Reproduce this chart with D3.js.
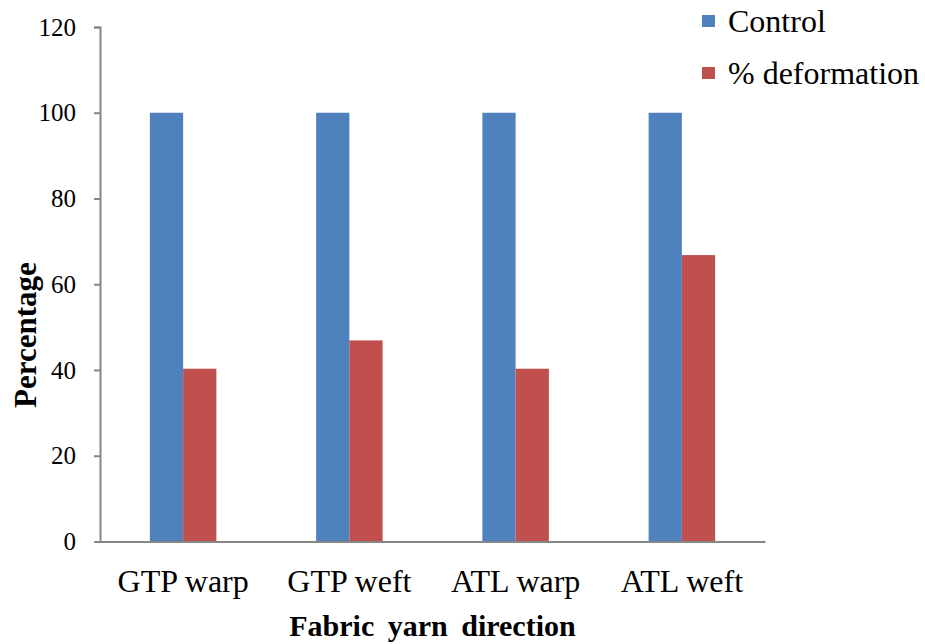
<!DOCTYPE html>
<html>
<head>
<meta charset="utf-8">
<script src="https://cdn.jsdelivr.net/npm/d3@7"></script>
<style>
  body { margin: 0; background: #fff; }
</style>
</head>
<body>
<svg id="chart"></svg>
<script>
const categories = ["GTP warp", "GTP weft", "ATL warp", "ATL weft"];
const seriesNames = ["Control", "% deformation"];
const controlValues = [100, 100, 100, 100];
const deformationValues = [40.3, 46.9, 40.3, 66.8];
const yTicks = [0, 20, 40, 60, 80, 100, 120];
const colors = ["#4F81BD", "#C0504D"];

const width = 925, height = 644;
const margin = { top: 27, right: 160, bottom: 103, left: 100 };
const serif = '"Liberation Serif"';

const svg = d3.select("#chart")
    .attr("width", width)
    .attr("height", height);

const x0 = d3.scaleBand()
    .domain(categories)
    .range([margin.left, 765])
    .padding(0);

const x1 = d3.scaleBand()
    .domain(seriesNames)
    .range([0, x0.bandwidth()])
    .paddingOuter(1.5)
    .paddingInner(0);

const y = d3.scaleLinear()
    .domain([0, 120])
    .range([height - margin.bottom + 0.5, margin.top]);

const rows = categories.map((c, i) => ({
    cat: c,
    values: [controlValues[i], deformationValues[i]]
}));

// bars
const groups = svg.append("g")
    .selectAll("g")
    .data(rows)
    .join("g")
    .attr("transform", d => `translate(${x0(d.cat)},0)`);

groups.selectAll("rect")
    .data(d => d.values.map((v, i) => ({ key: seriesNames[i], value: v, i: i })))
    .join("rect")
    .attr("x", d => x1(d.key))
    .attr("width", x1.bandwidth())
    .attr("y", d => y(d.value))
    .attr("height", d => y(0) - y(d.value))
    .attr("fill", d => colors[d.i]);

// y axis
const yAxis = svg.append("g")
    .attr("transform", `translate(${margin.left},0)`)
    .call(d3.axisLeft(y).tickValues(yTicks).tickSize(6).tickPadding(18));

yAxis.select(".domain").attr("stroke", "#868686").attr("stroke-width", 2);
yAxis.selectAll(".tick line").attr("stroke", "#868686").attr("stroke-width", 2);
yAxis.selectAll(".tick text")
    .style("font-family", serif)
    .style("font-size", "25px")
    .style("fill", "#000");

// x axis
const xAxis = svg.append("g")
    .attr("transform", `translate(0,${y(0)})`)
    .call(d3.axisBottom(x0).tickSize(0).tickPadding(28));

xAxis.select(".domain").attr("stroke", "#868686").attr("stroke-width", 2);
xAxis.selectAll(".tick text")
    .style("font-family", serif)
    .style("font-size", "32px")
    .style("fill", "#000");

// axis titles
svg.append("text")
    .attr("x", (margin.left + 765) / 2)
    .attr("y", 636)
    .attr("text-anchor", "middle")
    .style("font-family", serif)
    .style("font-size", "30px")
    .style("font-weight", "bold")
    .style("word-spacing", "6px")
    .text("Fabric yarn direction");

svg.append("text")
    .attr("transform", "translate(36,335) rotate(-90)")
    .attr("text-anchor", "middle")
    .style("font-family", serif)
    .style("font-size", "31px")
    .style("font-weight", "bold")
    .text("Percentage");

// legend
const legend = svg.append("g")
    .selectAll("g")
    .data(seriesNames)
    .join("g")
    .attr("transform", (d, i) => `translate(702,${15 + i * 52})`);

legend.append("rect")
    .attr("width", 13)
    .attr("height", 12)
    .attr("fill", (d, i) => colors[i]);

legend.append("text")
    .attr("x", 26)
    .attr("y", 17)
    .style("font-family", serif)
    .style("font-size", "32px")
    .text(d => d);
</script>
</body>
</html>
